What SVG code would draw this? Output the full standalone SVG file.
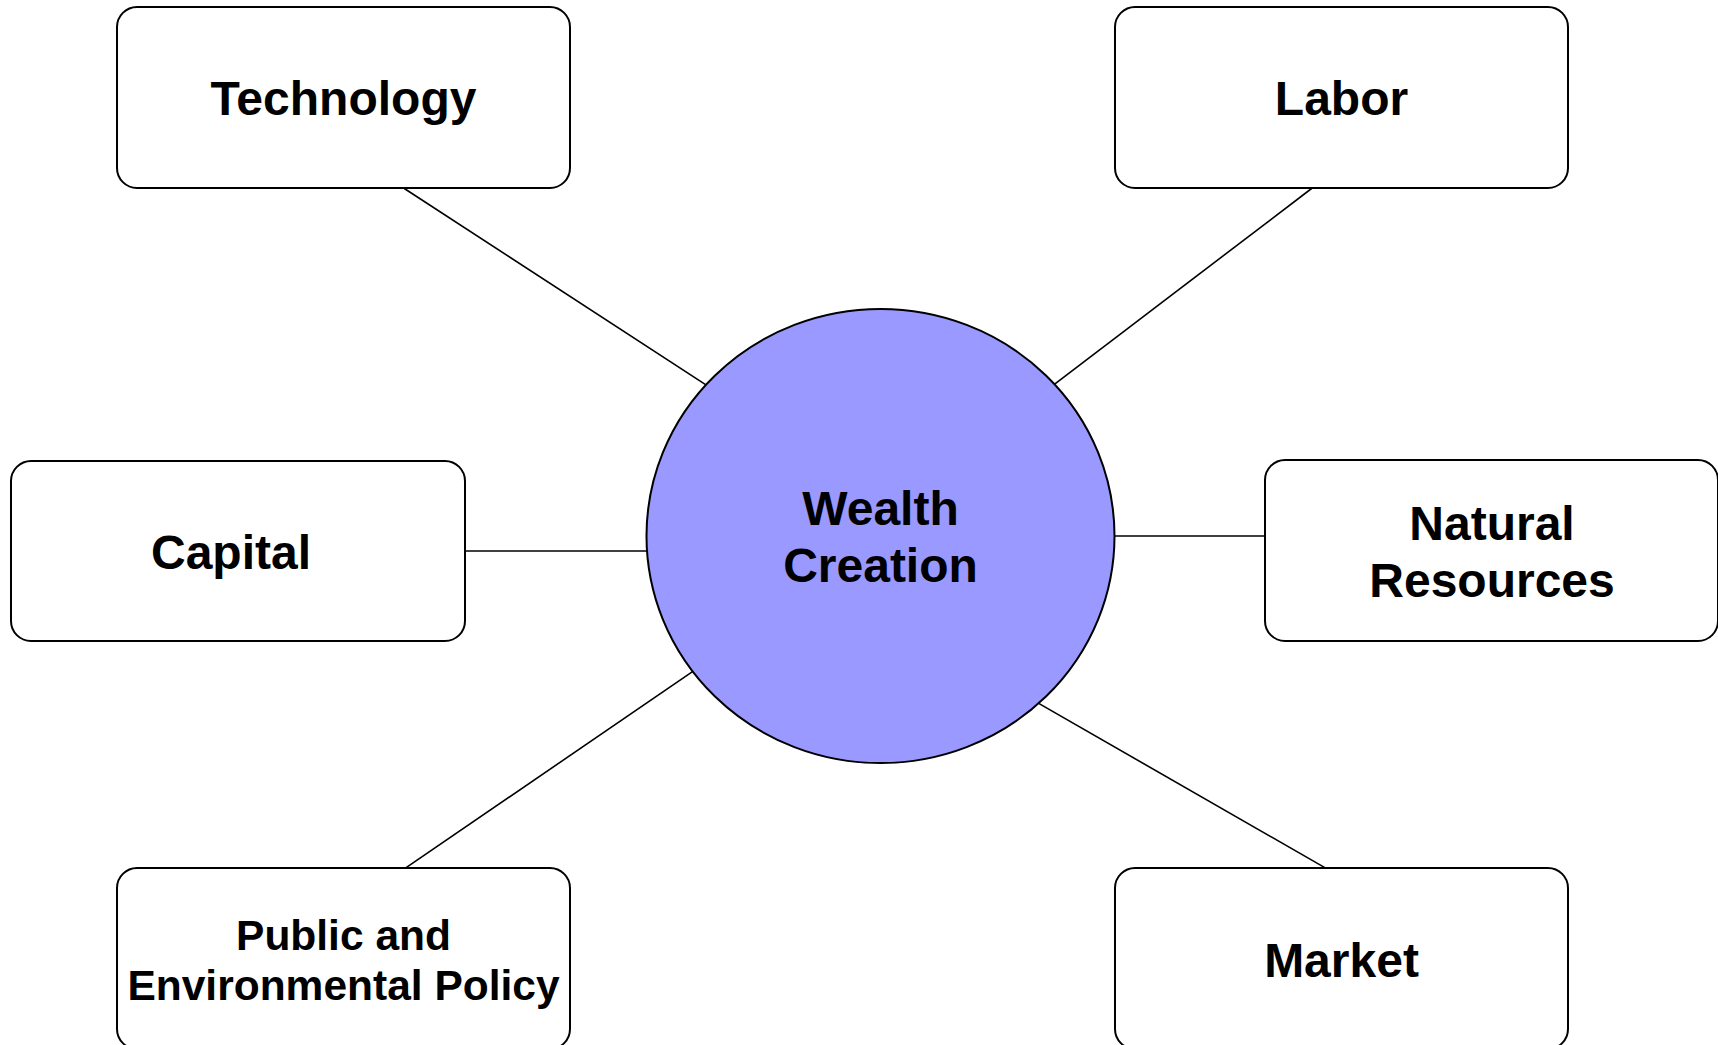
<svg xmlns="http://www.w3.org/2000/svg" width="1718" height="1045" viewBox="0 0 1718 1045">
<style>
.box{fill:#fff;stroke:#000;stroke-width:2}
.hub{fill:#9999ff;stroke:#000;stroke-width:2}
.edge{stroke:#000;stroke-width:1.6;fill:none}
text{font-family:"Liberation Sans",Arial,sans-serif;font-weight:bold;font-size:48px;fill:#000;text-anchor:middle}
.sm{font-size:42.5px}
</style>
<rect width="1718" height="1045" fill="#fff"/>
<g id="connectors">
<line class="edge" x1="404.3" y1="188.5" x2="705.6" y2="384.6"/>
<line class="edge" x1="1311.6" y1="188.5" x2="1054" y2="384.6"/>
<line class="edge" x1="465" y1="551" x2="647" y2="551"/>
<line class="edge" x1="1114" y1="536" x2="1265.5" y2="536"/>
<line class="edge" x1="404.3" y1="868.9" x2="692.5" y2="671.7"/>
<line class="edge" x1="1327" y1="868.9" x2="1038.7" y2="703.4"/>
</g>
<g id="technology">
<rect class="box" x="117" y="7" width="453" height="181" rx="20"/>
<text x="343.5" y="115">Technology</text>
</g>
<g id="labor">
<rect class="box" x="1115" y="7" width="453" height="181" rx="20"/>
<text x="1341.5" y="115">Labor</text>
</g>
<g id="capital">
<rect class="box" x="11" y="461" width="454" height="180" rx="20"/>
<text x="231" y="569">Capital</text>
</g>
<g id="natural-resources">
<rect class="box" x="1265" y="460" width="453" height="181" rx="20"/>
<text x="1492" y="540">Natural</text>
<text x="1492" y="597">Resources</text>
</g>
<g id="public-policy">
<rect class="box" x="117" y="868" width="453" height="181" rx="20"/>
<text class="sm" x="343.5" y="950">Public and</text>
<text class="sm" x="343.5" y="1000">Environmental Policy</text>
</g>
<g id="market">
<rect class="box" x="1115" y="868" width="453" height="181" rx="20"/>
<text x="1341.5" y="977">Market</text>
</g>
<g id="wealth-creation">
<ellipse class="hub" cx="880.5" cy="536" rx="234" ry="227"/>
<text x="880.5" y="525">Wealth</text>
<text x="880.5" y="582">Creation</text>
</g>
</svg>
